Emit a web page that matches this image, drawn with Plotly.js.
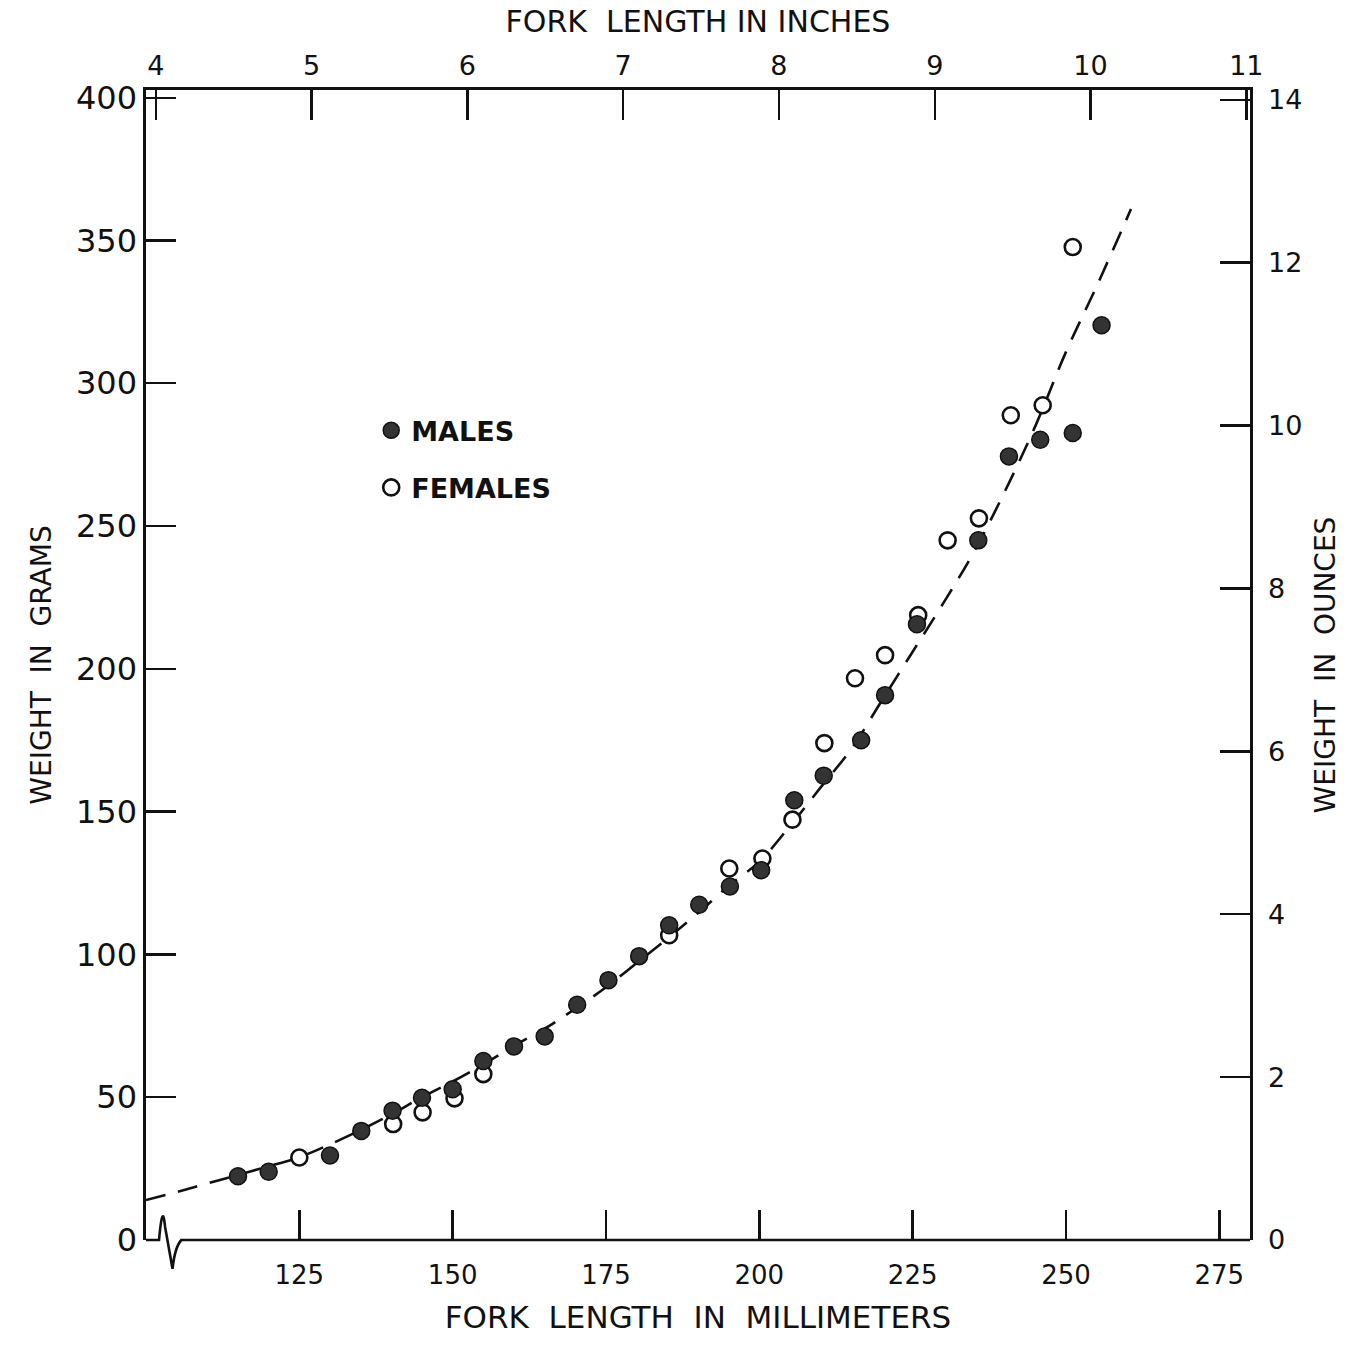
<!DOCTYPE html>
<html>
<head>
<meta charset="utf-8">
<script src="https://cdn.plot.ly/plotly-3.0.1.min.js"></script>
<style>html,body{margin:0;padding:0;background:#fff;}#chart{width:1345px;height:1345px;}</style>
</head>
<body>
<div id="chart"></div>
<script>
// Males (filled circles): fork length (mm), weight (g)
var maleLength = [115, 120, 130, 135.1, 140.2, 145, 150, 155, 160, 165, 170.3, 175.4, 180.4, 185.3, 190.2, 195.2, 200.3, 205.7, 210.5, 216.6, 220.5, 225.7, 235.7, 240.7, 245.8, 251.1, 255.8];
var maleWeight = [22.3, 23.9, 29.6, 38.2, 45.3, 49.8, 52.8, 62.7, 67.8, 71.3, 82.4, 91, 99.4, 110.2, 117.4, 123.8, 129.5, 154, 162.6, 175, 190.8, 215.6, 245, 274.4, 280.2, 282.6, 320.3];

// Females (open circles)
var femaleLength = [125, 140.3, 145.1, 150.3, 155, 185.3, 195.1, 200.5, 205.4, 210.6, 215.6, 220.5, 225.9, 230.7, 235.8, 241, 246.2, 251.1];
var femaleWeight = [28.9, 40.6, 44.7, 49.6, 58.1, 106.7, 130.1, 133.6, 147.2, 174, 196.7, 204.8, 218.8, 245, 252.7, 288.8, 292.3, 347.7];

// Dashed length-weight curve
var curveLength = [100, 105, 110, 115, 120, 125, 130, 135, 140, 145, 150, 155, 160, 165, 170, 175, 180, 185, 190, 195, 200, 205, 210, 215, 220, 225, 230, 235, 240, 245, 250, 255, 260.6];
var curveWeight = [14, 16.8, 19.8, 22.8, 25.8, 29, 33.5, 38.5, 44, 50, 55.5, 61.5, 68, 74, 81, 88.5, 97, 105.5, 114.5, 124, 132.5, 145, 158.5, 172, 189, 206, 223, 241, 262, 285, 311, 334, 361];

// Tick labels
var mmTicks = [125, 150, 175, 200, 225, 250, 275];
var inchTicks = [4, 5, 6, 7, 8, 9, 10, 11];
var inchLabels = ['4', '5', '6', '7', '8', '9', '10', '11'];
var gramTicks = [0, 50, 100, 150, 200, 250, 300, 350, 400];
var ounceTicks = [0, 2, 4, 6, 8, 10, 12, 14];

var FONT = 'DejaVu Sans, Liberation Sans, sans-serif';
var INK = '#111';
var SP = '\u00a0\u00a0';

var traces = [
  {x: curveLength, y: curveWeight, mode: 'lines', type: 'scatter', showlegend: false, hoverinfo: 'skip',
   line: {color: INK, width: 2.6, dash: '20px,13px', shape: 'spline', smoothing: 1}},
  {x: femaleLength, y: femaleWeight, mode: 'markers', type: 'scatter', name: 'FEMALES', legendgroup: 'f', legendrank: 2,
   marker: {symbol: 'circle', size: 16, color: '#fff', line: {color: INK, width: 2.6}}},
  {x: maleLength, y: maleWeight, mode: 'markers', type: 'scatter', name: 'MALES', legendgroup: 'm', legendrank: 1,
   marker: {symbol: 'circle', size: 17, color: '#333', line: {color: INK, width: 1.5}}},
  // dummy traces to activate the secondary axes
  {x: [], y: [], xaxis: 'x2', yaxis: 'y', showlegend: false, hoverinfo: 'skip'},
  {x: [], y: [], xaxis: 'x', yaxis: 'y2', showlegend: false, hoverinfo: 'skip'}
];

var axisCommon = {showgrid: false, zeroline: false, ticks: 'inside', ticklen: 30, tickwidth: 2.4, tickcolor: INK,
  linecolor: INK, linewidth: 2.6, mirror: false};

var layout = {
  width: 1345, height: 1345,
  paper_bgcolor: '#fff', plot_bgcolor: '#fff',
  margin: {l: 146, r: 95, t: 90, b: 105, pad: 0},
  showlegend: true,
  legend: {x: 0.204, y: 0.725, xanchor: 'left', yanchor: 'top', bgcolor: 'rgba(0,0,0,0)', borderwidth: 0,
    traceorder: 'grouped', tracegroupgap: 19, font: {family: FONT, size: 27, color: INK, weight: 'bold'}},
  xaxis: Object.assign({}, axisCommon, {
    range: [100, 280], tickmode: 'array', tickvals: mmTicks, ticktext: mmTicks.map(String),
    showline: false, ticklabelstandoff: 17,
    tickfont: {family: FONT, size: 26, color: INK},
    title: {text: 'FORK' + SP + 'LENGTH' + SP + 'IN' + SP + 'MILLIMETERS', standoff: 17, font: {family: FONT, size: 31, color: INK}}
  }),
  xaxis2: Object.assign({}, axisCommon, {
    overlaying: 'x', side: 'top', anchor: 'y', range: [100 / 25.4, 280 / 25.4],
    tickmode: 'array', tickvals: inchTicks, ticktext: inchLabels, showline: true, ticklabelstandoff: 2,
    tickfont: {family: FONT, size: 27, color: INK},
    title: {text: 'FORK' + SP + 'LENGTH\u00a0IN\u00a0INCHES', standoff: 8, font: {family: FONT, size: 30, color: INK}}
  }),
  yaxis: Object.assign({}, axisCommon, {
    range: [0, 402.7], tickmode: 'array', tickvals: gramTicks, ticktext: gramTicks.map(String), showline: true,
    ticklabelstandoff: 0,
    tickfont: {family: FONT, size: 32, color: INK},
    title: {text: 'WEIGHT' + SP + 'IN' + SP + 'GRAMS', standoff: 16, font: {family: FONT, size: 28, color: INK}}
  }),
  yaxis2: Object.assign({}, axisCommon, {
    overlaying: 'y', side: 'right', anchor: 'x', range: [0, 14.12], tickmode: 'array', tickvals: ounceTicks,
    ticktext: ounceTicks.map(String), showline: true, ticklabelstandoff: 10,
    tickfont: {family: FONT, size: 27, color: INK},
    title: {text: 'WEIGHT' + SP + 'IN' + SP + 'OUNCES', standoff: 14, font: {family: FONT, size: 28, color: INK}}
  }),
  shapes: [
    // bottom axis line with the break squiggle near the origin
    {type: 'path', xref: 'paper', yref: 'paper',
     path: 'M0,0 L0.0118,0 Q0.0150,0.034 0.0172,0.012 L0.0240,-0.025 Q0.0262,-0.006 0.0320,0 L1,0',
     line: {color: INK, width: 2.6}}
  ]
};

Plotly.newPlot('chart', traces, layout, {displayModeBar: false, staticPlot: true});
</script>
</body>
</html>
